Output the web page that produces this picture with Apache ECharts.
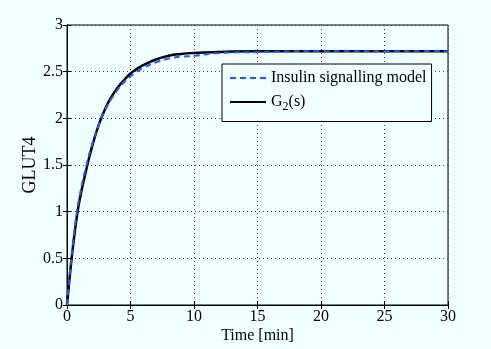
<!DOCTYPE html>
<html>
<head>
<meta charset="utf-8">
<script src="https://cdn.jsdelivr.net/npm/echarts@6/dist/echarts.min.js"></script>
<style>
html,body{margin:0;padding:0;background:#F0FFFF;}
#c{width:491px;height:349px;}
</style>
</head>
<body>
<div id="c"></div>
<script>
const timeInsulin = [0, 0.25, 0.5, 0.75, 1, 1.5, 2, 2.5, 3, 3.5, 4, 4.5, 5, 5.5, 6, 7, 8, 9, 10, 12, 15, 20, 25, 30];
const insulinModel = [0, 0.38, 0.70, 0.97, 1.17, 1.48, 1.73, 1.93, 2.09, 2.21, 2.31, 2.39, 2.45, 2.50, 2.54, 2.60, 2.64, 2.66, 2.67, 2.70, 2.71, 2.72, 2.72, 2.72];
const timeG2 = [0, 0.25, 0.5, 0.75, 1, 1.5, 2, 2.5, 3, 3.5, 4, 4.5, 5, 5.5, 6, 7, 8, 9, 10, 12, 15, 20, 25, 30];
const g2Values = [0, 0.35, 0.66, 0.92, 1.13, 1.44, 1.71, 1.93, 2.10, 2.23, 2.33, 2.41, 2.48, 2.53, 2.57, 2.63, 2.67, 2.69, 2.70, 2.71, 2.72, 2.72, 2.72, 2.72];
const xTicks = [0, 5, 10, 15, 20, 25, 30];
const yTicks = [0, 0.5, 1, 1.5, 2, 2.5, 3];
const seriesNames = ['Insulin signalling model', 'G2(s)'];

const font = 'Liberation Serif, Times New Roman, serif';
const pair = (xs, ys) => xs.map((x, i) => [x, ys[i]]);

const chart = echarts.init(document.getElementById('c'), null, {renderer: 'canvas'});
chart.setOption({
  backgroundColor: '#F0FFFF',
  animation: false,
  grid: {left: 67, right: 43, top: 25, bottom: 40, show: true, borderColor: '#000', borderWidth: 1, backgroundColor: '#F0FFFF'},
  legend: {
    orient: 'vertical', left: 222, top: 64,
    data: seriesNames,
    backgroundColor: '#F0FFFF', borderColor: '#000', borderWidth: 1,
    padding: [6, 5, 9, 7], itemGap: 8, itemWidth: 36, itemHeight: 14,
    itemStyle: {opacity: 0},
    formatter: n => n === 'G2(s)' ? 'G{sub|2}(s)' : n,
    textStyle: {fontFamily: font, fontSize: 16, color: '#000',
      rich: {sub: {fontFamily: font, fontSize: 12, color: '#000', verticalAlign: 'bottom', padding: [9, 0, 0, 0]}}}
  },
  xAxis: [{
    type: 'value', min: 0, max: 30, interval: 5,
    name: 'Time [min]', nameLocation: 'middle', nameGap: 23, nameMoveOverlap: false,
    nameTextStyle: {fontFamily: font, fontSize: 16, color: '#000'},
    axisLine: {show: true, onZero: false, lineStyle: {color: '#000'}},
    axisTick: {show: true, inside: true, length: 4, lineStyle: {color: '#000'}},
    axisLabel: {fontFamily: font, fontSize: 16, color: '#000', margin: 4, formatter: v => xTicks.includes(v) ? String(v) : ''},
    splitLine: {show: true, lineStyle: {color: '#444', type: [1, 3], width: 1}}
  }, {
    type: 'value', min: 0, max: 30, interval: 5, position: 'top',
    axisLine: {show: true, lineStyle: {color: '#000'}},
    axisTick: {show: true, inside: true, length: 4, lineStyle: {color: '#000'}},
    axisLabel: {show: false}, splitLine: {show: false}
  }],
  yAxis: [{
    type: 'value', min: 0, max: 3, interval: 0.5,
    name: 'GLUT4', nameLocation: 'middle', nameGap: 28, nameMoveOverlap: false,
    nameTextStyle: {fontFamily: font, fontSize: 18, color: '#000'},
    axisLine: {show: true, onZero: false, lineStyle: {color: '#000'}},
    axisTick: {show: true, inside: true, length: 4, lineStyle: {color: '#000'}},
    axisLabel: {fontFamily: font, fontSize: 16, color: '#000', margin: 4, formatter: v => yTicks.includes(v) ? String(v) : ''},
    splitLine: {show: true, lineStyle: {color: '#444', type: [1, 3], width: 1}}
  }, {
    type: 'value', min: 0, max: 3, interval: 0.5, position: 'right',
    axisLine: {show: true, lineStyle: {color: '#000'}},
    axisTick: {show: true, inside: true, length: 4, lineStyle: {color: '#000'}},
    axisLabel: {show: false}, splitLine: {show: false}
  }],
  series: [{
    name: seriesNames[0], type: 'line', data: pair(timeInsulin, insulinModel),
    symbol: 'none', smooth: 0.5, z: 3,
    lineStyle: {color: '#1e5aff', width: 2, type: [6, 4]}, itemStyle: {color: '#1e5aff'}
  }, {
    name: seriesNames[1], type: 'line', data: pair(timeG2, g2Values),
    symbol: 'none', smooth: 0.5, z: 2,
    lineStyle: {color: '#000', width: 2.5}, itemStyle: {color: '#000'}
  }]
});
</script>
</body>
</html>
